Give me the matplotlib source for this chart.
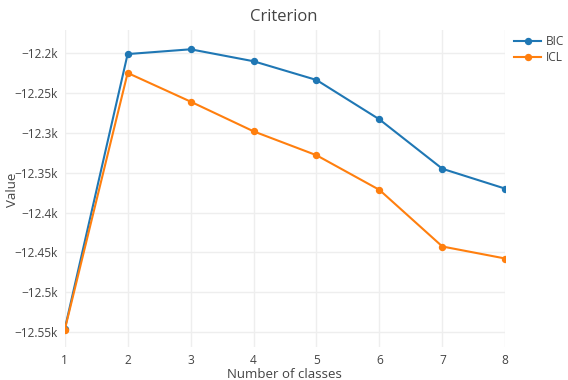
import numpy as np
import matplotlib.pyplot as plt
from matplotlib.ticker import FuncFormatter

plt.rcParams['font.family'] = ['Open Sans', 'DejaVu Sans']

# data
n_classes = [1, 2, 3, 4, 5, 6, 7, 8]
bic = [-12546.5, -12201, -12195, -12210, -12233.5, -12283, -12345, -12370]
icl = [-12547.5, -12224.7, -12260.7, -12298, -12328, -12371.5, -12442.6, -12457.7]
y_ticks = [-12550, -12500, -12450, -12400, -12350, -12300, -12250, -12200]

text_col = '#444444'
grid_col = '#eeeeee'

fig = plt.figure(figsize=(5.68, 3.8), dpi=100)
ax = fig.add_axes([0.1139, 0.0868, 0.7757, 0.8342])

ax.plot(n_classes, bic, color='#1f77b4', lw=1.5, marker='o', ms=4.3, label='BIC')
ax.plot(n_classes, icl, color='#ff7f0e', lw=1.5, marker='o', ms=4.3, label='ICL')

ax.set_xlim(1, 8)
ax.set_ylim(-12568.8, -12170.8)
ax.set_xticks(n_classes)
ax.set_yticks(y_ticks)

def kfmt(v, pos):
    s = ('%g' % (v / 1000)) + 'k'
    return s.replace('-', '\u2212')

ax.yaxis.set_major_formatter(FuncFormatter(kfmt))

ax.grid(True, color=grid_col, lw=1)
ax.set_axisbelow(True)
for s in ax.spines.values():
    s.set_visible(False)
ax.tick_params(length=0, colors=text_col, labelsize=8.6, pad=5)

fig.text(0.5, 1 - 374 / 380, 'Number of classes', ha='center', va='center',
         color=text_col, fontsize=9.5)
fig.text(13 / 568, 1 - 190 / 380, 'Value', ha='center', va='center', rotation=90,
         color=text_col, fontsize=9.5)
fig.text(0.5, 0.955, 'Criterion', ha='center', va='center', color=text_col, fontsize=12)

leg = ax.legend(loc='upper left', bbox_to_anchor=(1.01, 1.0), frameon=False,
                fontsize=8.6, handlelength=2.2, labelspacing=0.3, borderaxespad=0,
                handletextpad=0.4)
for t in leg.get_texts():
    t.set_color(text_col)

fig.savefig('out.png', dpi=100)
